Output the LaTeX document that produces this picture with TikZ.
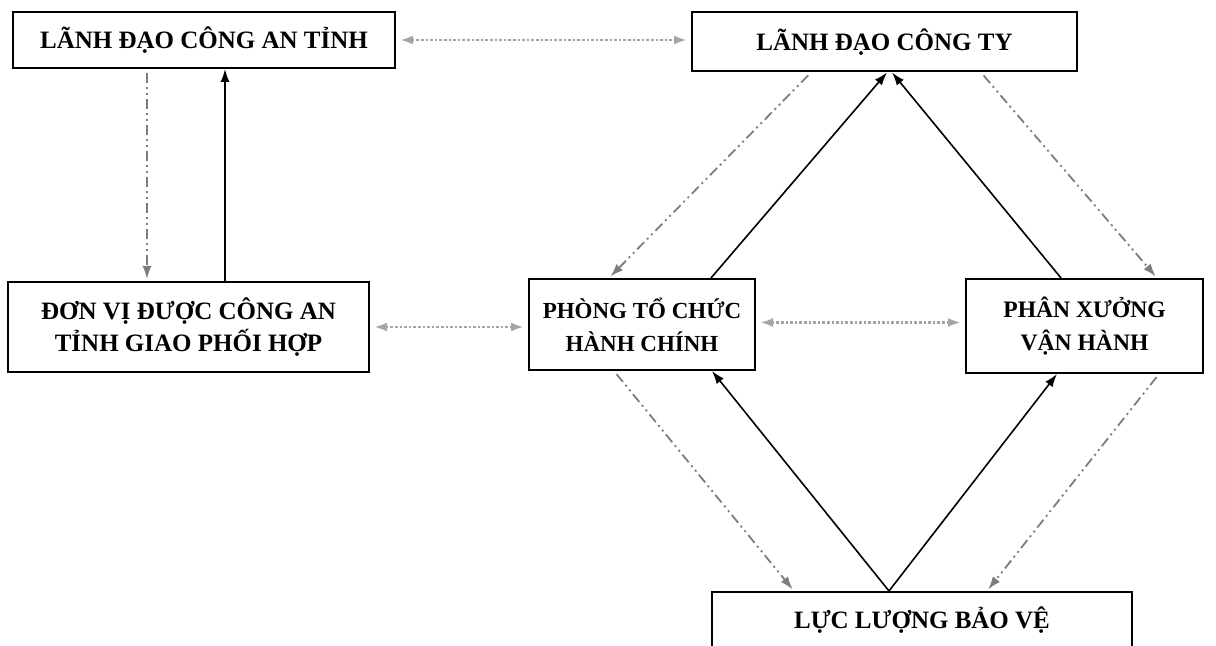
\documentclass[tikz,border=0pt]{standalone}
\usepackage{fontspec}
\setmainfont{Liberation Serif}
\usepackage{xcolor}
\usetikzlibrary{arrows.meta}
\definecolor{arrgray}{RGB}{125,125,125}
\definecolor{dotgray}{RGB}{165,165,165}

\begin{document}
\begin{tikzpicture}[x=0.5pt,y=-0.5pt,>={Latex[length=6.5pt,width=4.5pt]},
  box/.style={draw,line width=1pt,align=center,inner sep=0pt,
    font=\bfseries\fontsize{12.5}{16}\selectfont},
  smallbox/.style={box,font=\bfseries\fontsize{11.5}{16.5}\selectfont},
  lien/.style={<->,dotgray,densely dotted,line width=1.3pt,shorten <=2pt,shorten >=2pt},
  chidao/.style={->,arrgray,line width=0.9pt,shorten <=2pt,shorten >=1pt,
    dash pattern=on 5pt off 2pt on 1pt off 2pt on 1pt off 2pt},
  baocao/.style={->,line width=0.8pt}]
  \useasboundingbox (0,0) rectangle (1216,646);
% Boxes
  \node[box,minimum width=191pt,minimum height=28pt] (ldca) at (204,40) {LÃNH ĐẠO CÔNG AN TỈNH};
  \node[box,minimum width=192.5pt,minimum height=29.5pt] (ldct) at (884.5,42) {LÃNH ĐẠO CÔNG TY};
  \node[box,minimum width=180.5pt,minimum height=45pt] (dvph) at (188.5,327) {ĐƠN VỊ ĐƯỢC CÔNG AN\\TỈNH GIAO PHỐI HỢP};
  \node[smallbox,minimum width=113pt,minimum height=45.5pt] (ptc) at (642,324.5) {PHÒNG TỔ CHỨC\\HÀNH CHÍNH};
  \node[smallbox,minimum width=118.5pt,minimum height=47pt,font=\bfseries\fontsize{11.8}{16.5}\selectfont] (pxvh) at (1084.5,326) {PHÂN XƯỞNG\\VẬN HÀNH};
  \node[box,minimum width=210pt,minimum height=28pt] (llbv) at (922,620) {LỰC LƯỢNG BẢO VỆ};
% Coordination
  \draw[lien] (ldca.east) -- (ldca.east -| ldct.west);
  \draw[lien] (dvph.east) -- (dvph.east -| ptc.west);
  \draw[lien] ([yshift=1pt]ptc.east) -- ([yshift=1pt]ptc.east -| pxvh.west);
% Left column
  \draw[chidao] ([xshift=67.5pt]ldca.south west) -- ([xshift=67.5pt]ldca.south west |- dvph.north);
  \draw[baocao] ([xshift=106.5pt]ldca.south west |- dvph.north) -- ([xshift=106.5pt]ldca.south west);
% Upper diamond
  \draw[chidao] ([xshift=60pt]ldct.south west) -- ([xshift=40.5pt]ptc.north west);
  \draw[baocao] ([xshift=91.5pt]ptc.north west) -- ([xshift=98pt]ldct.south west);
  \draw[baocao] ([xshift=48pt]pxvh.north west) -- ([xshift=100.5pt]ldct.south west);
  \draw[chidao] ([xshift=145pt]ldct.south west) -- ([xshift=96pt]pxvh.north west);
% Lower diamond
  \draw[chidao] ([xshift=43pt]ptc.south west) -- ([xshift=41.5pt]llbv.north west);
  \draw[baocao] ([xshift=89pt]llbv.north west) -- ([xshift=92pt]ptc.south west);
  \draw[baocao] ([xshift=89pt]llbv.north west) -- ([xshift=46pt]pxvh.south west);
  \draw[chidao] ([xshift=97pt]pxvh.south west) -- ([xshift=138pt]llbv.north west);
\end{tikzpicture}
\end{document}
